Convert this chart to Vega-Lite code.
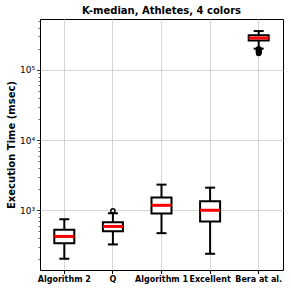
{
  "$schema": "https://vega.github.io/schema/vega-lite/v6.json",
  "autosize": {"type": "none"},
  "width": 243,
  "height": 251,
  "padding": {"left": 40, "top": 19, "right": 8, "bottom": 21},
  "background": "white",
  "datasets": {
    "stats": [
      {"method": "Algorithm 2", "low": 204, "q1": 340, "median": 424, "q3": 526, "high": 745},
      {"method": "Q", "low": 326, "q1": 504, "median": 588, "q3": 676, "high": 906},
      {"method": "Algorithm 1", "low": 472, "q1": 898, "median": 1177, "q3": 1514, "high": 2318},
      {"method": "Excellent", "low": 240, "q1": 692, "median": 1000, "q3": 1342, "high": 2100},
      {"method": "Bera at al.", "low": 200500, "q1": 261000, "median": 284000, "q3": 310000, "high": 357000}
    ],
    "outliers": [
      {"method": "Q", "value": 980},
      {"method": "Bera at al.", "value": 199000},
      {"method": "Bera at al.", "value": 196000},
      {"method": "Bera at al.", "value": 193000},
      {"method": "Bera at al.", "value": 190000},
      {"method": "Bera at al.", "value": 187000},
      {"method": "Bera at al.", "value": 184000},
      {"method": "Bera at al.", "value": 181000},
      {"method": "Bera at al.", "value": 178000},
      {"method": "Bera at al.", "value": 175000},
      {"method": "Bera at al.", "value": 172000}
    ]
  },
  "title": {
    "text": "K-median, Athletes, 4 colors",
    "font": "DejaVu Sans",
    "fontSize": 10,
    "fontWeight": "bold",
    "color": "black",
    "offset": 3
  },
  "config": {
    "view": {"stroke": "black", "strokeWidth": 1},
    "axis": {
      "labelFont": "DejaVu Sans",
      "titleFont": "DejaVu Sans",
      "labelColor": "black",
      "titleColor": "black",
      "tickColor": "black",
      "domain": false,
      "gridColor": "#cccccc",
      "gridWidth": 0.8
    }
  },
  "encoding": {
    "x": {
      "field": "method",
      "type": "nominal",
      "sort": ["Algorithm 2", "Q", "Algorithm 1", "Excellent", "Bera at al."],
      "scale": {"domain": ["Algorithm 2", "Q", "Algorithm 1", "Excellent", "Bera at al."], "paddingInner": 0, "paddingOuter": 0},
      "axis": {
        "title": null,
        "labelAngle": 0,
        "labelFontSize": 8,
        "labelFontWeight": "bold",
        "labelPadding": 2,
        "tickSize": 3.5,
        "grid": true,
        "bandPosition": 0.5
      }
    }
  },
  "layer": [
    {
      "data": {"name": "stats"},
      "mark": {"type": "rule", "color": "black", "strokeWidth": 2},
      "encoding": {
        "y": {
          "field": "low",
          "type": "quantitative",
          "scale": {"type": "log", "domain": [141, 530000], "nice": false},
          "axis": {
            "title": "Execution Time (msec)",
            "titleFontSize": 10,
            "titleFontWeight": "bold",
            "titlePadding": 3,
            "labelFontSize": 9,
            "values": [200,300,400,500,600,700,800,900,1000,2000,3000,4000,5000,6000,7000,8000,9000,10000,20000,30000,40000,50000,60000,70000,80000,90000,100000,200000,300000,400000,500000],
            "labelExpr": "datum.value == 1000 ? '10³' : datum.value == 10000 ? '10⁴' : datum.value == 100000 ? '10⁵' : ''",
            "grid": true,
            "gridOpacity": {"condition": {"test": "datum.value == 1000 || datum.value == 10000 || datum.value == 100000", "value": 1}, "value": 0},
            "tickSize": {"condition": {"test": "datum.value == 1000 || datum.value == 10000 || datum.value == 100000", "value": 3.5}, "value": 2},
            "tickWidth": {"condition": {"test": "datum.value == 1000 || datum.value == 10000 || datum.value == 100000", "value": 0.8}, "value": 0.6},
            "labelPadding": 2
          }
        },
        "y2": {"field": "q1"}
      }
    },
    {
      "data": {"name": "stats"},
      "mark": {"type": "rule", "color": "black", "strokeWidth": 2},
      "encoding": {
        "y": {"field": "q3", "type": "quantitative"},
        "y2": {"field": "high"}
      }
    },
    {
      "data": {"name": "stats"},
      "mark": {"type": "bar", "fill": "white", "stroke": "black", "strokeWidth": 2, "size": 20},
      "encoding": {
        "y": {"field": "q1", "type": "quantitative"},
        "y2": {"field": "q3"}
      }
    },
    {
      "data": {"name": "stats"},
      "mark": {"type": "tick", "color": "red", "thickness": 3, "size": 20, "opacity": 1},
      "encoding": {
        "y": {"field": "median", "type": "quantitative"}
      }
    },
    {
      "data": {"name": "stats"},
      "mark": {"type": "tick", "color": "black", "thickness": 2, "size": 10, "opacity": 1},
      "encoding": {
        "y": {"field": "low", "type": "quantitative"}
      }
    },
    {
      "data": {"name": "stats"},
      "mark": {"type": "tick", "color": "black", "thickness": 2, "size": 10, "opacity": 1},
      "encoding": {
        "y": {"field": "high", "type": "quantitative"}
      }
    },
    {
      "data": {"name": "outliers"},
      "mark": {"type": "point", "shape": "circle", "filled": false, "stroke": "black", "strokeWidth": 1.5, "size": 18, "opacity": 1},
      "encoding": {
        "y": {"field": "value", "type": "quantitative"}
      }
    }
  ]
}
